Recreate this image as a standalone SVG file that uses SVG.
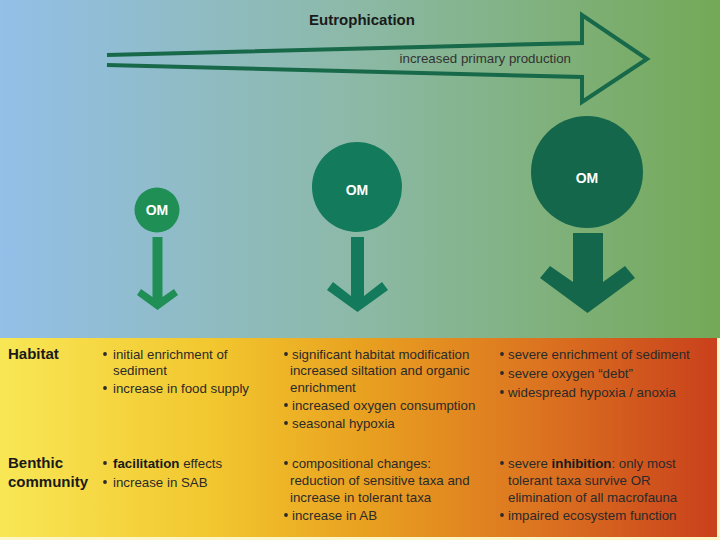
<svg xmlns="http://www.w3.org/2000/svg" width="720" height="540" viewBox="0 0 720 540">
<defs>
<linearGradient id="gTop" x1="0" y1="0" x2="1" y2="0">
<stop offset="0" stop-color="#93bfe8"/>
<stop offset="0.5" stop-color="#8cb9a6"/>
<stop offset="1" stop-color="#74a957"/>
</linearGradient>
<linearGradient id="gBot" x1="0" y1="0" x2="1" y2="0">
<stop offset="0" stop-color="#f8e755"/>
<stop offset="0.3" stop-color="#f2c62e"/>
<stop offset="0.5" stop-color="#e9a220"/>
<stop offset="0.75" stop-color="#dc7420"/>
<stop offset="1" stop-color="#c9401c"/>
</linearGradient>
<style>
.t{font-family:"Liberation Sans",Arial,sans-serif;font-size:13.3px;fill:#2a2a2a}
.h{font-family:"Liberation Sans",Arial,sans-serif;font-size:15px;font-weight:bold;fill:#1a1a1a}
.b{font-weight:bold;fill:#1a1a1a}
.om{font-family:"Liberation Sans",Arial,sans-serif;font-size:14px;font-weight:bold;fill:#ffffff;text-anchor:middle}
.bul{fill:#2a2a2a}
</style>
</defs>
<rect x="0" y="0" width="720" height="540" fill="#fdf6c8"/>
<rect x="0" y="0" width="720" height="338" fill="url(#gTop)"/>
<rect x="0" y="338" width="717" height="199" fill="url(#gBot)"/>

<g id="eutrophication">
<path d="M107,55 L582,43 L582,15 L647,59 L582,102 L582,77 L107,65" fill="none" stroke="#17694a" stroke-width="4" stroke-linejoin="miter"/>
<text x="362" y="25" class="h" text-anchor="middle">Eutrophication</text>
<text x="571" y="63" font-family="Liberation Sans,Arial,sans-serif" font-size="13.3" fill="#333" text-anchor="end">increased primary production</text>
</g>

<g id="om-small">
<circle cx="157" cy="210" r="22.5" fill="#1f8f55"/>
<text x="157" y="215" class="om">OM</text>
</g>
<g id="om-medium">
<circle cx="357" cy="187" r="45" fill="#137a5b"/>
<text x="357" y="195" class="om">OM</text>
</g>
<g id="om-large">
<circle cx="587" cy="172" r="56" fill="#14674a"/>
<text x="587" y="183" class="om">OM</text>
</g>

<g id="connectors">
<polygon points="152.5,237 162.5,237 162.5,297 174,289 178,295 157.5,310 137,295 141,289 152.5,297" fill="#1f8f55"/>
<polygon points="351,237 364,237 364,296 382,282 388,290 357.5,312 327,290 333,282 351,296" fill="#137a5b"/>
<polygon points="573,233 603,233 603,282 625,266 635,278 587.5,313 540,278 550,266 573,282" fill="#14674a"/>
</g>

<g id="habitat">
<text x="8" y="359" class="h">Habitat</text>
<circle cx="105" cy="354" r="1.9" class="bul"/>
<text x="113" y="359" class="t">initial enrichment of</text>
<text x="113" y="375" class="t">sediment</text>
<circle cx="105" cy="388" r="1.9" class="bul"/>
<text x="113" y="393" class="t">increase in food supply</text>

<circle cx="286" cy="354" r="1.9" class="bul"/>
<text x="292" y="359" class="t">significant habitat modification</text>
<text x="290" y="375" class="t">increased siltation and organic</text>
<text x="290" y="392" class="t">enrichment</text>
<circle cx="286" cy="405" r="1.9" class="bul"/>
<text x="292" y="410" class="t">increased oxygen consumption</text>
<circle cx="286" cy="423" r="1.9" class="bul"/>
<text x="292" y="428" class="t">seasonal hypoxia</text>

<circle cx="502" cy="354" r="1.9" class="bul"/>
<text x="508" y="359" class="t">severe enrichment of sediment</text>
<circle cx="502" cy="373" r="1.9" class="bul"/>
<text x="508" y="378" class="t">severe oxygen “debt”</text>
<circle cx="502" cy="392" r="1.9" class="bul"/>
<text x="508" y="397" class="t">widespread hypoxia / anoxia</text>
</g>

<g id="benthic">
<text x="8" y="468" class="h">Benthic</text>
<text x="8" y="487" class="h">community</text>
<circle cx="105" cy="463" r="1.9" class="bul"/>
<text x="113" y="468" class="t"><tspan class="b">facilitation</tspan> effects</text>
<circle cx="105" cy="482" r="1.9" class="bul"/>
<text x="113" y="487" class="t">increase in SAB</text>

<circle cx="286" cy="463" r="1.9" class="bul"/>
<text x="292" y="468" class="t">compositional changes:</text>
<text x="290" y="485" class="t">reduction of sensitive taxa and</text>
<text x="290" y="502" class="t">increase in tolerant taxa</text>
<circle cx="286" cy="515" r="1.9" class="bul"/>
<text x="292" y="520" class="t">increase in AB</text>

<circle cx="502" cy="463" r="1.9" class="bul"/>
<text x="508" y="468" class="t">severe <tspan class="b">inhibition</tspan>: only most</text>
<text x="508" y="485" class="t">tolerant taxa survive OR</text>
<text x="508" y="502" class="t">elimination of all macrofauna</text>
<circle cx="502" cy="515" r="1.9" class="bul"/>
<text x="508" y="520" class="t">impaired ecosystem function</text>
</g>
</svg>
